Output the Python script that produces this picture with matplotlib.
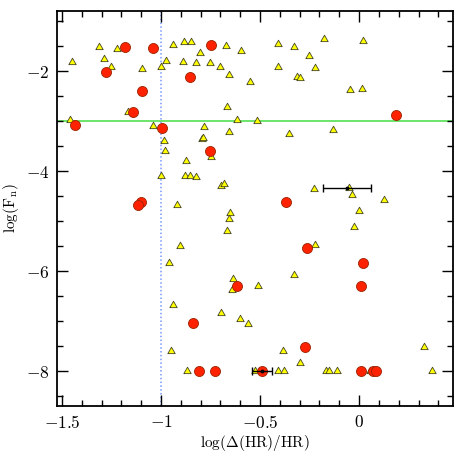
import matplotlib
matplotlib.use("Agg")
import matplotlib.pyplot as plt
from matplotlib.ticker import MultipleLocator, FuncFormatter
import numpy as np

plt.rcParams['font.family'] = 'serif'
plt.rcParams['font.serif'] = ['cmr10', 'DejaVu Serif']
plt.rcParams['mathtext.fontset'] = 'cm'
plt.rcParams['axes.unicode_minus'] = True

# yellow triangles
tri_x = [-1.448, -1.312, -1.286, -1.253, -1.224, -1.094, -1.002, -0.973, -0.938, -0.882,
         -0.850, -0.803, -0.887, -0.822, -0.754, -0.700, -0.672, -0.594, -0.657, -0.549,
         -0.665, -0.615, -0.514, -1.460, -1.167, -1.039, -0.783, -0.657, -0.793, -0.786,
         -0.985,
         -0.407, -0.328, -0.177, 0.020, -0.253, -0.407, -0.222, -0.315, -0.296, -0.047,
         0.015, -0.355, -0.131,
         -0.980, -0.875, -0.746, -0.998, -0.877, -0.852, -0.822, -0.697, -0.682, -0.919,
         -0.650, -0.658, -0.668, -0.902, -0.960,
         -0.226, -0.049, -0.035, 0.125, -0.003, -0.024, -0.222, -0.327,
         -0.638, -0.643, -0.509, -0.938, -0.697, -0.603, -0.559, -0.948, -0.869, -0.525,
         -0.382, -0.298, 0.330, -0.409, -0.377, -0.167, -0.153, -0.111, 0.370, 0.056]
tri_y = [-1.81, -1.52, -1.75, -1.91, -1.55, -1.95, -1.92, -1.80, -1.47, -1.41,
         -1.41, -1.63, -1.82, -1.84, -1.84, -1.91, -1.49, -1.59, -2.07, -2.21,
         -2.72, -2.97, -3.00, -2.98, -2.81, -3.09, -3.11, -3.21, -3.35, -3.34,
         -3.40,
         -1.45, -1.51, -1.35, -1.39, -1.69, -1.91, -1.93, -2.11, -2.14, -2.38,
         -2.35, -3.25, -3.17,
         -3.60, -3.80, -3.71, -4.09, -4.09, -4.09, -4.11, -4.29, -4.25, -4.67,
         -4.84, -4.95, -5.20, -5.50, -5.84,
         -4.36, -4.33, -4.48, -4.58, -4.80, -5.11, -5.47, -6.08,
         -6.16, -6.38, -6.29, -6.67, -6.84, -6.95, -7.05, -7.59, -8.0, -8.0,
         -7.59, -7.83, -7.51, -8.0, -8.0, -8.0, -8.0, -8.0, -8.0, -8.0]

# red circles
red_x = [-1.433, -1.278, -1.182, -1.042, -1.097, -1.143, -0.996, -0.747, -0.852, 0.187,
         -0.753, -1.099, -1.116, -0.369, -0.264, 0.019, -0.616, -0.837, -0.808, -0.726,
         0.010, -0.273, 0.010, 0.072, 0.086, -0.491]
red_y = [-3.07, -2.02, -1.51, -1.53, -2.40, -2.81, -3.13, -1.48, -2.12, -2.87,
         -3.59, -4.62, -4.68, -4.61, -5.54, -5.83, -6.29, -7.03, -8.0, -8.0,
         -6.29, -7.51, -8.0, -8.0, -8.0, -8.0]

# error bars
err_x = [-0.06, -0.49]
err_y = [-4.33, -8.0]
err_dx = [0.12, 0.05]

hline_y = -3.0
vline_x = -1.0

fig = plt.figure(figsize=(4.63, 4.63), dpi=100)
ax = fig.add_axes([0.124, 0.123, 0.854, 0.853])

tri_marker = [(-1, -0.577), (1, -0.577), (0, 1.155), (-1, -0.577)]

ax.axhline(hline_y, color='#44dd44', lw=1.1, zorder=1)
ax.axvline(vline_x, color='#7799ff', lw=1.1, ls=(0, (1, 1.5)), zorder=1)

ax.scatter(tri_x, tri_y, marker=tri_marker, s=38, facecolor='#ffff00',
           edgecolor='#444422', linewidths=0.6, zorder=3)
ax.scatter(red_x, red_y, marker='o', s=52, facecolor='#ff2200',
           edgecolor='#992200', linewidths=0.6, zorder=4)
ax.errorbar(err_x, err_y, xerr=err_dx, fmt='o', ms=1.8, color='black',
            ecolor='black', elinewidth=1.0, capsize=3, capthick=1.0, zorder=5)

ax.set_xlim(-1.523, 0.473)
ax.set_ylim(-8.7, -0.8)

ax.xaxis.set_major_locator(MultipleLocator(0.5))
ax.xaxis.set_minor_locator(MultipleLocator(0.1))
ax.yaxis.set_major_locator(MultipleLocator(2))
ax.yaxis.set_minor_locator(MultipleLocator(0.5))

fmt = FuncFormatter(lambda v, p: r'$%s$' % ('%g' % v if abs(v) > 1e-9 else '0'))
ax.xaxis.set_major_formatter(fmt)
ax.yaxis.set_major_formatter(fmt)

ax.tick_params(which='both', direction='in', top=True, right=True,
               labelsize=12.5, width=1.0, color='black')
ax.tick_params(which='major', length=8, pad=6)
ax.tick_params(which='minor', length=4)
for s in ax.spines.values():
    s.set_linewidth(1.3)

ax.set_xlabel(r'$\log(\Delta(\mathrm{HR})/\mathrm{HR})$', fontsize=11, labelpad=1)
ax.set_ylabel(r'$\log(\mathrm{F_n})$', fontsize=11, labelpad=3)

fig.savefig('out.png', dpi=100)
